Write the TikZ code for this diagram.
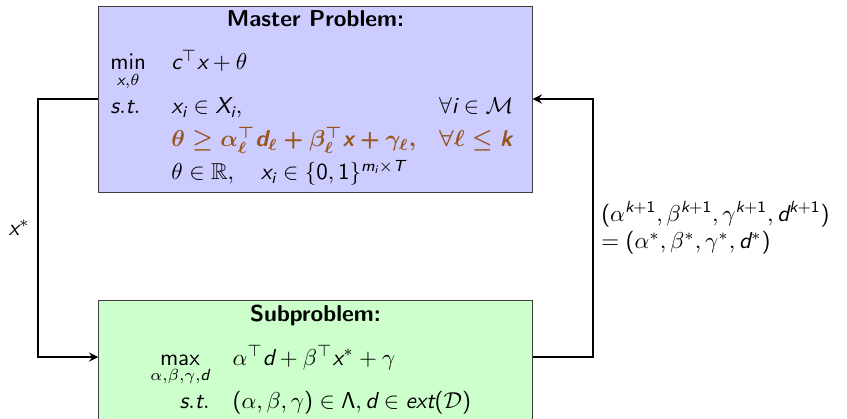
\documentclass[tikz,border=0pt]{standalone}
\usepackage{amsmath,amssymb}
\usepackage{xcolor}
\usetikzlibrary{arrows,positioning,calc}
\renewcommand{\familydefault}{\sfdefault}
% sans serif letters and digits in math
\DeclareSymbolFont{sfletters}{TU}{lmss}{m}{sl}
\SetSymbolFont{sfletters}{bold}{TU}{lmss}{bx}{sl}
\SetSymbolFont{operators}{normal}{OT1}{cmss}{m}{n}
\SetSymbolFont{operators}{bold}{OT1}{cmss}{bx}{n}
\makeatletter
\count@=`a
\loop
  \mathcode\count@=\numexpr"7000+\symsfletters*"100+\count@\relax
\ifnum\count@<`z \advance\count@ 1 \repeat
\count@=`A
\loop
  \mathcode\count@=\numexpr"7000+\symsfletters*"100+\count@\relax
\ifnum\count@<`Z \advance\count@ 1 \repeat
\makeatother
\definecolor{mpblue}{RGB}{204,204,255}
\definecolor{spgreen}{RGB}{204,255,204}
\definecolor{cutbrown}{RGB}{153,85,28}

\begin{document}
\begin{tikzpicture}[
    x=0.01528cm, y=-0.01528cm,
    master/.style={rectangle, draw=black!75, fill=mpblue, minimum width=6.62cm, minimum height=2.84cm},
    sub/.style={rectangle, draw=black!75, fill=spgreen, minimum width=6.62cm, minimum height=2.0cm},
    ttl/.style={font=\bfseries, inner sep=0pt, anchor=base},
    prob/.style={inner sep=0pt, anchor=base west},
    arrow/.style={->, >=stealth, thick}
]
\useasboundingbox (0,0) rectangle (847,419);
\renewcommand{\arraystretch}{1.2}

% Boxes
\node[master] (mp) at (315.5,99) {};
\node[sub] (sp) at (315.5,366) {};

% Master problem
\node[ttl] (mptitle) at ($(mp.north)+(0,21)$) {Master Problem:};
\node[prob] (mptxt) at (110,70) {%
\begin{tabular}[t]{@{}l@{\hspace{11pt}}l@{\hspace{10pt}}l@{}}
$\min\limits_{x,\theta}$ & $c^\top x + \theta$ & \\[1.5pt]
$s.t.$ & $x_i \in X_i,$ & $\forall i \in \mathcal{M}$ \\
 & {\color{cutbrown}\boldmath$\theta \geq \alpha_\ell^\top d_\ell + \beta_\ell^\top x + \gamma_\ell,$} & {\color{cutbrown}\boldmath$\forall \ell \leq k$} \\
 & $\theta \in \mathbb{R}, \quad x_i \in \{0,1\}^{m_i \times T}$ &
\end{tabular}};

% Subproblem
\node[ttl] (sptitle) at ($(sp.north)+(0,21)$) {Subproblem:};
\node[prob] (sptxt) at (150,365) {%
\begin{tabular}[t]{@{}r@{\hspace{10pt}}l@{}}
$\max\limits_{\alpha,\beta,\gamma,d}$ & $\alpha^\top d + \beta^\top x^* + \gamma$ \\
$s.t.$ & $(\alpha,\beta,\gamma) \in \Lambda, d \in ext(\mathcal{D})$
\end{tabular}};

% Connectors
\coordinate (spin) at ($(sp.north west)+(0,57)$);
\coordinate (spout) at ($(sp.north east)+(0,57)$);
\draw[arrow] (mp.west) -- ++(-60,0) |- node[pos=0.25, left] {$x^*$} (spin);
\draw[arrow] (spout) -- ++(60,0) |- node[pos=0.25, right, align=left] {$(\alpha^{k+1},\beta^{k+1},\gamma^{k+1},d^{k+1})$\\$=(\alpha^*,\beta^*,\gamma^*,d^*)$} (mp.east);

\end{tikzpicture}
\end{document}
